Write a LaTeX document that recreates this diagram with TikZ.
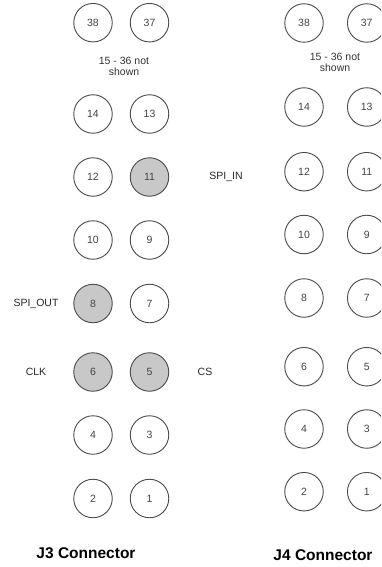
\documentclass[tikz,border=0pt]{standalone}
\usepackage{fontspec}
\setmainfont{Liberation Sans}
\definecolor{pinline}{HTML}{4A4A4A}
\definecolor{pinfill}{HTML}{C8C8C8}
\definecolor{pintext}{HTML}{444444}
\tikzset{
  pin/.style={circle, draw=pinline, line width=0.9pt, fill=white, minimum size=38.5pt, inner sep=0pt, text=pintext, font=\fontsize{10.5}{12}\selectfont},
  hot/.style={pin, fill=pinfill},
  lbl/.style={inner sep=0pt, text=black!85, font=\fontsize{10.5}{12}\selectfont},
  note/.style={inner sep=0pt, align=center, text=black!80, font=\fontsize{10.5}{11.5}\selectfont},
  title/.style={inner sep=0pt, font=\fontsize{15.5}{18}\selectfont\bfseries}
}
\begin{document}
\begin{tikzpicture}[x=1pt,y=-1pt]
\path[use as bounding box] (0,0) rectangle (381,567);
\clip (0,0) rectangle (381,567);
% J3
\node[pin] (a38) at (93,22.7) {38};
\node[pin] (a37) at (149.5,22.7) {37};
\node[note] (anote) at (124,66.5) {15 - 36 not\\shown};
\node[pin] (a14) at (93,114) {14};
\node[pin] (a13) at (149.5,114) {13};
\node[pin] (a12) at (93,177) {12};
\node[hot] (a11) at (149.5,177) {11};
\node[pin] (a10) at (93,240) {10};
\node[pin] (a9) at (149.5,240) {9};
\node[hot] (a8) at (93,303.5) {8};
\node[pin] (a7) at (149.5,303.5) {7};
\node[hot] (a6) at (93,372) {6};
\node[hot] (a5) at (149.5,372) {5};
\node[pin] (a4) at (93,435) {4};
\node[pin] (a3) at (149.5,435) {3};
\node[pin] (a2) at (93,498.5) {2};
\node[pin] (a1) at (149.5,498.5) {1};
\node[lbl] (spiout) at (36,303.5) {SPI\_OUT};
\node[lbl] (clk) at (36,372) {CLK};
\node[lbl] (spiin) at (226,176.5) {SPI\_IN};
\node[lbl] (cs) at (205,372) {CS};
\node[title] (j3) at (86,553) {J3 Connector};
% J4
\node[pin] (b38) at (304,23) {38};
\node[pin] (b37) at (366.7,23) {37};
\node[note] (bnote) at (335,62.5) {15 - 36 not\\shown};
\node[pin] (b14) at (304,107) {14};
\node[pin] (b13) at (366.7,107) {13};
\node[pin] (b12) at (304,171.7) {12};
\node[pin] (b11) at (366.7,171.7) {11};
\node[pin] (b10) at (304,234.5) {10};
\node[pin] (b9) at (366.7,234.5) {9};
\node[pin] (b8) at (304,298) {8};
\node[pin] (b7) at (366.7,298) {7};
\node[pin] (b6) at (304,366.7) {6};
\node[pin] (b5) at (366.7,366.7) {5};
\node[pin] (b4) at (304,429) {4};
\node[pin] (b3) at (366.7,429) {3};
\node[pin] (b2) at (304,491.7) {2};
\node[pin] (b1) at (366.7,491.7) {1};
\node[title] (j4) at (323,555) {J4 Connector};
\end{tikzpicture}
\end{document}
